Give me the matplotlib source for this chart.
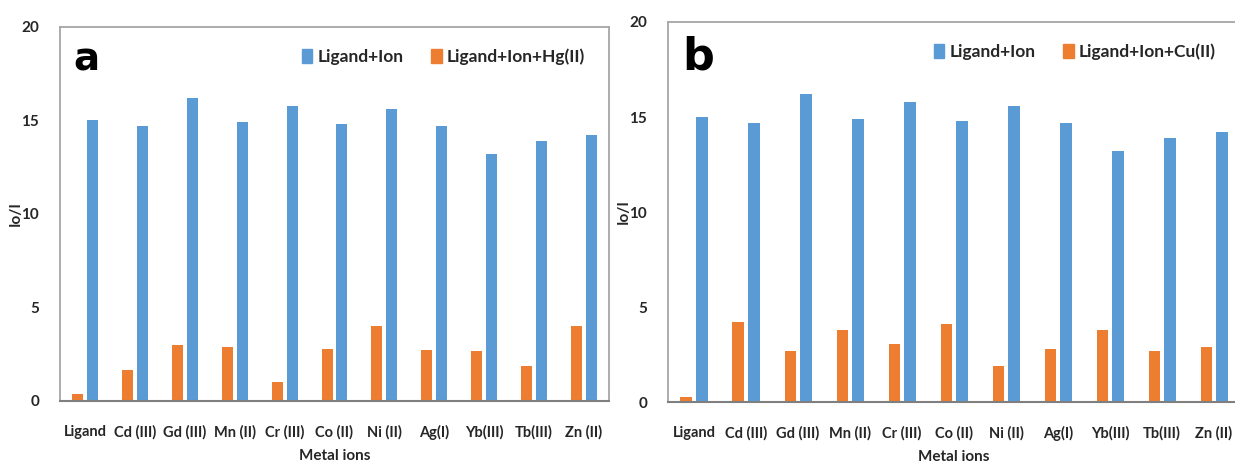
import numpy as np
import matplotlib
matplotlib.use("Agg")
import matplotlib.pyplot as plt
from matplotlib.patches import Patch

# categories and values
ions = ["Ligand", "Cd (III)", "Gd (III)", "Mn (II)", "Cr (III)", "Co (II)",
        "Ni (II)", "Ag(I)", "Yb(III)", "Tb(III)", "Zn (II)"]

ligand_ion_a = [15.0, 14.7, 16.2, 14.9, 15.8, 14.8, 15.6, 14.7, 13.2, 13.9, 14.2]
with_hg = [0.4, 1.65, 3.0, 2.9, 1.0, 2.8, 4.0, 2.75, 2.7, 1.85, 4.0]

ligand_ion_b = [15.0, 14.7, 16.2, 14.9, 15.8, 14.8, 15.6, 14.7, 13.2, 13.9, 14.2]
with_cu = [0.25, 4.2, 2.7, 3.8, 3.05, 4.1, 1.9, 2.8, 3.8, 2.7, 2.9]

yticks = [0, 5, 10, 15, 20]

blue = "#5B9BD5"
orange = "#ED7D31"
fam = ["Lato", "DejaVu Sans"]

fig = plt.figure(figsize=(12.35, 4.66), dpi=100)
ax_a = fig.add_axes([0.0486, 0.1395, 0.4445, 0.8026])
ax_b = fig.add_axes([0.5409, 0.1373, 0.4632, 0.8155])


def draw(ax, blue_vals, orange_vals, letter, second_label, letter_size, ylab_x):
    x = np.arange(len(ions))
    w = 0.22
    ax.bar(x - 0.15, orange_vals, w, color=orange, zorder=2)
    ax.bar(x + 0.15, blue_vals, w, color=blue, zorder=2)
    ax.set_xlim(-0.5, len(ions) - 0.5)
    ax.set_ylim(0, 20)
    ax.set_yticks(yticks)
    ax.set_xticks(x)
    ax.set_xticklabels(ions, family=fam, fontsize=10.5, fontweight="bold",
                       color="#262626")
    for lab in ax.get_yticklabels():
        lab.set_family(fam)
        lab.set_fontsize(11)
        lab.set_fontweight("bold")
        lab.set_color("#262626")
    ax.tick_params(axis="both", length=0)
    ax.tick_params(axis="x", pad=17)
    ax.tick_params(axis="y", pad=15)
    for s in ["top", "left", "right"]:
        ax.spines[s].set_color("#a6a6a6")
        ax.spines[s].set_linewidth(1.3)
    ax.spines["bottom"].set_color("#7f7f7f")
    ax.spines["bottom"].set_linewidth(1.5)
    ax.set_xlabel("Metal ions", family=fam, fontsize=11, fontweight="bold",
                  color="#262626", labelpad=7)
    ax.set_ylabel("Io/I", family=fam, fontsize=11, fontweight="bold",
                  color="#262626")
    ax.yaxis.set_label_coords(ylab_x, 0.5)
    ax.text(0.025, 0.965, letter, transform=ax.transAxes, fontsize=letter_size,
            fontweight="bold", va="top", ha="left", family=["DejaVu Sans"])
    handles = [Patch(color=blue, label="Ligand+Ion"),
               Patch(color=orange, label=second_label)]
    leg = ax.legend(handles=handles, ncol=2, frameon=False,
                    loc="upper right", bbox_to_anchor=(0.985, 0.985),
                    handlelength=0.6, handleheight=0.9, handletextpad=0.3,
                    columnspacing=1.6,
                    prop={"family": fam, "size": 12.5, "weight": "bold"})
    for t in leg.get_texts():
        t.set_color("#262626")


draw(ax_a, ligand_ion_a, with_hg, "a", "Ligand+Ion+Hg(II)", 28, -0.067)
draw(ax_b, ligand_ion_b, with_cu, "b", "Ligand+Ion+Cu(II)", 32, -0.065)

fig.savefig("out.png", dpi=100)
